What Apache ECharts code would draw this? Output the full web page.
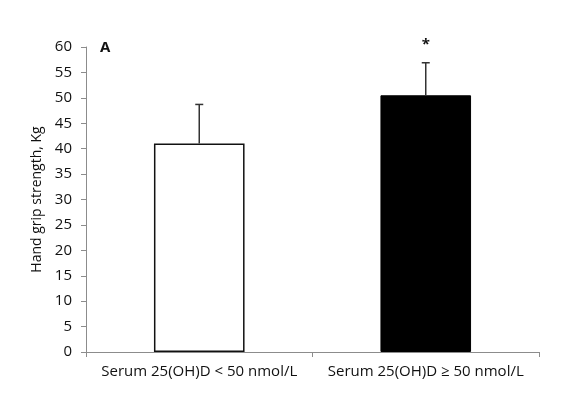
<!DOCTYPE html>
<html><head><meta charset="utf-8">
<script src="https://cdn.jsdelivr.net/npm/echarts@6/dist/echarts.min.js"></script>
<style>html,body{margin:0;padding:0;background:#fff}#c{width:567px;height:393px}</style>
</head><body><div id="c"></div>
<script>
const categories = ['Serum 25(OH)D < 50 nmol/L', 'Serum 25(OH)D \u2265 50 nmol/L'];
const means = [41.0, 50.5];
const sds = [7.7, 6.4];
const sig = ['', '*'];
const yTicks = [0, 5, 10, 15, 20, 25, 30, 35, 40, 45, 50, 55, 60];

const chart = echarts.init(document.getElementById('c'));
const font = '"Open Sans", "Liberation Sans", sans-serif';
chart.setOption({
  animation: false,
  grid: { left: 86, right: 28, top: 47, bottom: 41 },
  xAxis: {
    type: 'category', data: categories,
    axisLine: { lineStyle: { color: '#8c8c8c', width: 1 } },
    axisTick: { show: true, length: 5, lineStyle: { color: '#8c8c8c' } },
    axisLabel: { color: '#111', fontSize: 15, fontFamily: font, margin: 12, interval: 0 }
  },
  yAxis: {
    type: 'value', min: yTicks[0], max: yTicks[yTicks.length - 1], interval: 5,
    name: 'Hand grip strength, Kg', nameLocation: 'middle', nameGap: 41,
    nameTextStyle: { color: '#111', fontSize: 14, fontFamily: font },
    axisLine: { show: true, lineStyle: { color: '#8c8c8c', width: 1 } },
    axisTick: { show: true, length: 5, lineStyle: { color: '#8c8c8c' } },
    splitLine: { show: false },
    axisLabel: { color: '#111', fontSize: 15, fontFamily: font, margin: 14 }
  },
  graphic: [{ type: 'text', left: 100, top: 40, style: { text: 'A', font: 'bold 15px ' + font, fill: '#111' } }],
  series: [
    {
      type: 'bar', barWidth: '40%',
      data: means.map((v, i) => ({
        value: v,
        itemStyle: i === 0 ? { color: '#fff', borderColor: '#111', borderWidth: 1.5 } : { color: '#000', borderColor: '#000', borderWidth: 1 }
      }))
    },
    {
      type: 'custom', z: 10,
      data: means.map((v, i) => [i, v, v + sds[i]]),
      renderItem: function (params, api) {
        const i = api.value(0);
        const p0 = api.coord([i, api.value(1)]);
        const p1 = api.coord([i, api.value(2)]);
        const color = '#333';
        const children = [
          { type: 'line', shape: { x1: p0[0], y1: p0[1], x2: p1[0], y2: p1[1] }, style: { stroke: color, lineWidth: 1.5 } },
          { type: 'line', shape: { x1: p1[0] - 4, y1: p1[1], x2: p1[0] + 4, y2: p1[1] }, style: { stroke: color, lineWidth: 1.5 } }
        ];
        if (sig[i]) {
          children.push({ type: 'text', x: p1[0], y: p1[1] - 18, style: { text: sig[i], font: 'bold 15px ' + font, fill: '#111', align: 'center', verticalAlign: 'middle' } });
        }
        return { type: 'group', children: children };
      }
    }
  ]
});
</script></body></html>
